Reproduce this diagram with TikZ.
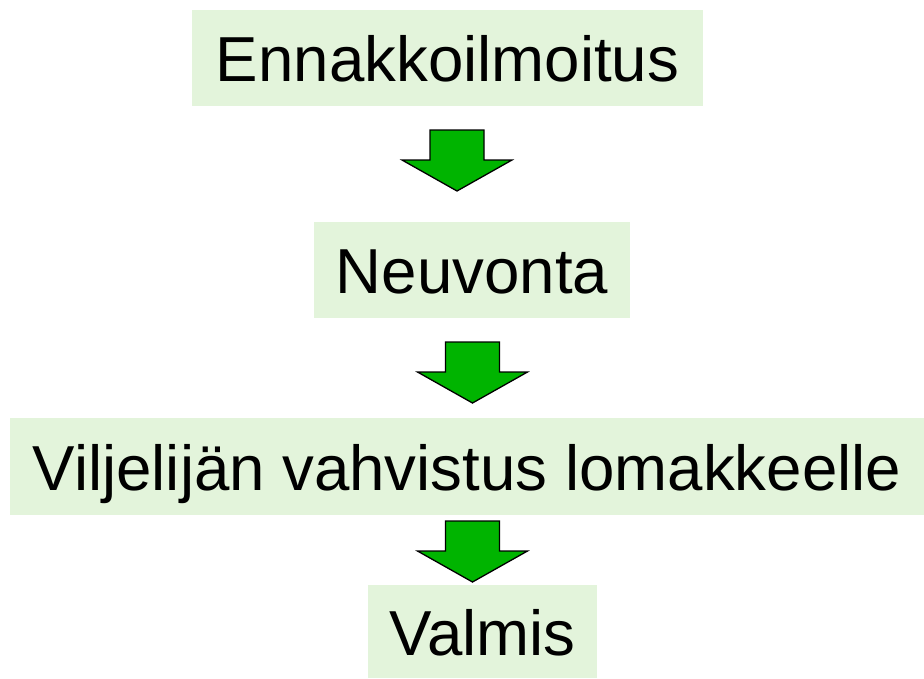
\documentclass[tikz,border=0pt]{standalone}
\usepackage{fontspec}
\setmainfont{Liberation Sans}
\usetikzlibrary{positioning}
\definecolor{boxfill}{HTML}{E3F4DB}
\definecolor{arrgreen}{HTML}{00B400}
\tikzset{stepbox/.style={fill=boxfill,inner sep=0pt,text height=47.5pt,text depth=0pt,
   font=\fontsize{63.6}{70}\selectfont},
  blockarr/.style={fill=arrgreen,draw=black,line width=1.3pt,line join=miter}}

\begin{document}
\begin{tikzpicture}[x=1pt,y=-1pt]
\useasboundingbox (0,0) rectangle (924,678);
\node[stepbox,minimum width=511pt,minimum height=96pt] (ennakko) at (447.5,58) {Ennakkoilmoitus};
\node[stepbox,minimum width=316pt,minimum height=96pt] (neuvonta) at (472,270) {Neuvonta};
\node[stepbox,minimum width=914pt,minimum height=97pt] (vahvistus) at (467,466.5) {Viljelijän vahvistus lomakkeelle};
\node[stepbox,minimum width=229pt,minimum height=93pt] (valmis) at (482.5,631.5) {Valmis};
% block arrows between the steps
\foreach \n/\x/\y in {a1/457/130,a2/472.5/342,a3/472.5/521}{
 \coordinate (\n) at (\x,\y);
 \draw[blockarr] (\n) ++(-27,0) -- ++(54,0) -- ++(0,30) -- ++(28,0) -- ++(-55,31)
   -- ++(-55,-31) -- ++(28,0) -- cycle;
}
\end{tikzpicture}
\end{document}
